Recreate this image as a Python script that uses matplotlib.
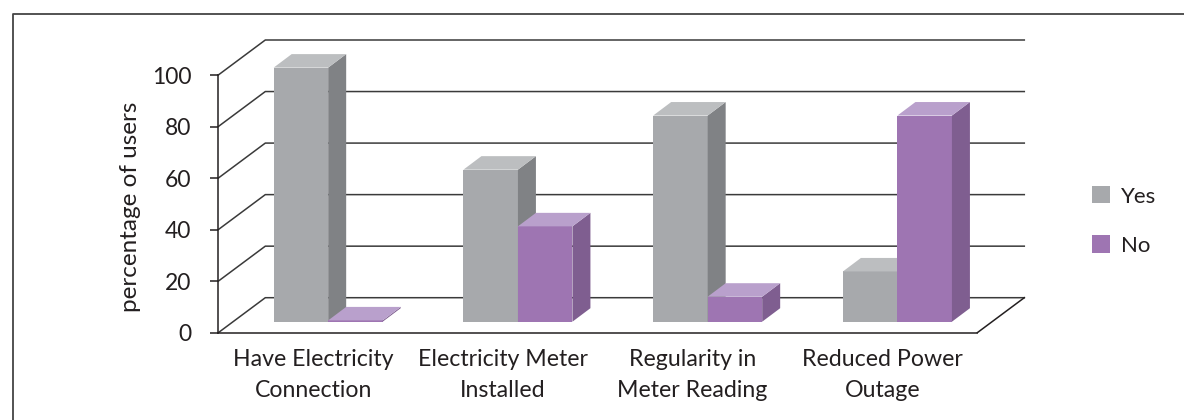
import matplotlib
matplotlib.use("Agg")
import matplotlib.pyplot as plt
from matplotlib.patches import Polygon, Rectangle

categories = ["Have Electricity\nConnection", "Electricity Meter\nInstalled",
              "Regularity in\nMeter Reading", "Reduced Power\nOutage"]
yes_values = [98.6, 59, 80, 19.5]
no_values = [0.5, 37, 9.7, 80]
y_ticks = [0, 20, 40, 60, 80, 100]

W, H = 1184, 420
plt.rcParams["font.family"] = ["Lato", "DejaVu Sans"]
text_color = "#231F20"

fig = plt.figure(figsize=(W / 100, H / 100), dpi=100)
ax = fig.add_axes([218.3 / W, 1 - 332.7 / H, 759 / W, 257.7 / H])
ax.set_xlim(0, 4)
ax.set_ylim(0, 100)
ax.patch.set_visible(False)

# frame runs along the top and left only, off the edge of the figure
fig.add_artist(plt.Line2D([13 / W, 13 / W, 1], [0, 1 - 14 / H, 1 - 14 / H], transform=fig.transFigure,
                          color="#444444", lw=1.3))

# oblique depth, in data units
px_x = 4 / 759
px_y = 100 / 257.7
wall_dx = 47 * px_x
wall_dy = 35 * px_y
gap_dx = 15 * px_x
gap_dy = 11 * px_y
bar_dx = 18 * px_x
bar_dy = 13.5 * px_y
bar_w = 54.5 * px_x


def poly(points, color, z):
    ax.add_patch(Polygon(points, closed=True, fc=color, ec="none", zorder=z, clip_on=False))


# back wall lines and floor
for v in y_ticks:
    ax.plot([0, wall_dx, 4 + wall_dx], [v, v + wall_dy, v + wall_dy],
            color="#3a3a3a", lw=1.1, zorder=1, clip_on=False)
ax.plot([4 + wall_dx, 4], [wall_dy, 0], color="#231F20", lw=1.1, zorder=1, clip_on=False)


def draw_bar(left, value, front, side, top, z):
    base = gap_dy
    peak = base + value
    ax.bar(left, value, width=bar_w, bottom=base, align="edge", color=front, zorder=z, clip_on=False)
    right = left + bar_w
    poly([(right, base), (right + bar_dx, base + bar_dy),
          (right + bar_dx, peak + bar_dy), (right, peak)], side, z)
    poly([(left, peak), (right, peak), (right + bar_dx, peak + bar_dy),
          (left + bar_dx, peak + bar_dy)], top, z)


for i in range(len(categories)):
    center = i + 0.5 + gap_dx
    draw_bar(center - bar_w, yes_values[i], "#A7A9AC", "#808285", "#BCBEC0", 3)
    draw_bar(center, no_values[i], "#9E75B2", "#7F5E90", "#B9A0CC", 4)

for side in ["top", "right"]:
    ax.spines[side].set_visible(False)
for side in ["left", "bottom"]:
    ax.spines[side].set_color(text_color)
    ax.spines[side].set_linewidth(1.1)
    ax.spines[side].set_zorder(2)

ax.set_yticks(y_ticks)
ax.set_xticks([i + 0.5 for i in range(len(categories))])
ax.set_xticklabels(categories, fontsize=16.7, color=text_color, linespacing=1.62)
ax.tick_params(axis="x", length=0, pad=11.5)
ax.tick_params(axis="y", length=5.8, width=1.1, color=text_color, labelsize=16.5,
               labelcolor=text_color, pad=13.5)
ax.set_ylabel("percentage of users", fontsize=17.5, color=text_color)
ax.yaxis.set_label_coords((141 - 218.3) / 759, 0.488)

# legend, one plain swatch per series
handles = [Rectangle((0, 0), 1, 1, fc="#A7A9AC", ec="none"),
           Rectangle((0, 0), 1, 1, fc="#9E75B2", ec="none")]
fig.legend(handles, ["Yes", "No"], loc="center left", bbox_to_anchor=(1092 / W, 1 - 221 / H),
           frameon=False, fontsize=16, labelcolor=text_color, handlelength=0.81, handleheight=0.81,
           handletextpad=0.5, labelspacing=1.3, borderpad=0, borderaxespad=0)

fig.savefig("out.png", dpi=100, facecolor="white")
